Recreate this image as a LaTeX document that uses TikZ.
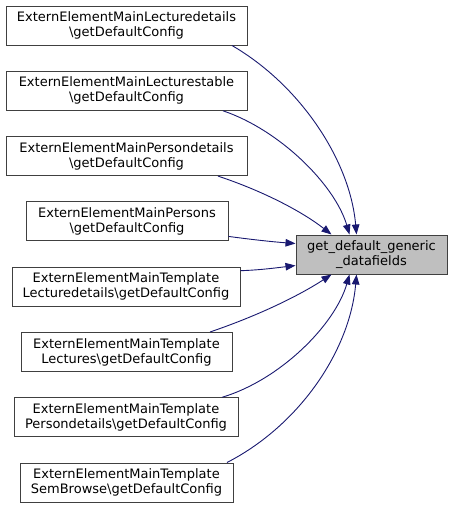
\documentclass[tikz,border=0pt]{standalone}
\usepackage{fontspec}
\setmainfont{DejaVu Sans}
\usetikzlibrary{arrows.meta}
\definecolor{edgeblue}{HTML}{191970}
\definecolor{boxline}{HTML}{404040}
\definecolor{hilite}{HTML}{BFBFBF}
\tikzset{
  caller/.style={draw=boxline, line width=1pt, fill=white, align=center,
    minimum height=39pt, inner sep=0pt, font=\fontsize{13}{15}\selectfont},
  callee/.style={caller, fill=hilite},
  callarrow/.style={draw=edgeblue, line width=0.9pt,
    -{Triangle[length=10pt,width=7.5pt]}}
}
\begin{document}
\begin{tikzpicture}[x=1pt,y=-1pt]
\useasboundingbox (0,0) rectangle (452,509);
\node[caller, minimum width=241pt] (b1) at (126.5,25.5) {ExternElementMainLecturedetails\\\textbackslash getDefaultConfig};
\node[caller, minimum width=241pt] (b2) at (126.5,90.8) {ExternElementMainLecturestable\\\textbackslash getDefaultConfig};
\node[caller, minimum width=241pt] (b3) at (126.5,156.1) {ExternElementMainPersondetails\\\textbackslash getDefaultConfig};
\node[caller, minimum width=202pt] (b4) at (127,221.4) {ExternElementMainPersons\\\textbackslash getDefaultConfig};
\node[caller, minimum width=228pt] (b5) at (126,286.7) {ExternElementMainTemplate\\Lecturedetails\textbackslash getDefaultConfig};
\node[caller, minimum width=211pt] (b6) at (126.5,352) {ExternElementMainTemplate\\Lectures\textbackslash getDefaultConfig};
\node[caller, minimum width=224pt] (b7) at (126,417.3) {ExternElementMainTemplate\\Persondetails\textbackslash getDefaultConfig};
\node[caller, minimum width=213pt] (b8) at (126.5,482.5) {ExternElementMainTemplate\\SemBrowse\textbackslash getDefaultConfig};
\node[callee, minimum width=151pt] (t) at (371.5,254.5) {get\_default\_generic\\\_datafields};

\draw[callarrow] ([xshift=105.5pt]b1.south) .. controls (300,85) and (350,160) .. ([xshift=61pt]t.north west);
\draw[callarrow] ([xshift=96.5pt]b2.south) .. controls (280,130) and (335,185) .. ([xshift=54pt]t.north west);
\draw[callarrow] ([xshift=91.5pt]b3.south) .. controls (260,190) and (300,210) .. ([xshift=36pt]t.north west);
\draw[callarrow] ([yshift=-15pt]b4.east) .. controls (255,240) and (275,242) .. ([yshift=11pt]t.west);
\draw[callarrow] ([yshift=16pt]b5.east) .. controls (260,270) and (275,268) .. ([yshift=-11pt]t.west);
\draw[callarrow] ([xshift=83.5pt]b6.north) .. controls (260,315) and (300,295) .. ([xshift=36pt]t.south west);
\draw[callarrow] ([xshift=96pt]b7.north) .. controls (280,380) and (335,325) .. ([xshift=54pt]t.south west);
\draw[callarrow] ([xshift=100.5pt]b8.north) .. controls (300,425) and (350,350) .. ([xshift=61pt]t.south west);
\end{tikzpicture}
\end{document}
